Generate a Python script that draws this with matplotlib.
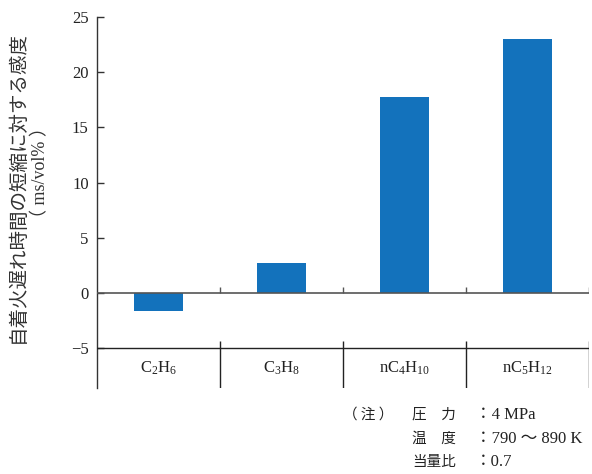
import matplotlib
matplotlib.use("Agg")
import matplotlib.pyplot as plt

plt.rcParams["font.family"] = ["Liberation Serif", "Noto Sans CJK JP"]
plt.rcParams["mathtext.default"] = "regular"
plt.rcParams["axes.unicode_minus"] = True

CATEGORIES  = ["C$_2$H$_6$", "C$_3$H$_8$", "nC$_4$H$_{10}$", "nC$_5$H$_{12}$"]
SENSITIVITY = [-1.6, 2.7, 17.8, 23.0]
Y_TICKS     = [-5, 0, 5, 10, 15, 20, 25]

YLABEL_1 = "自着火遅れ時間の短縮に対する感度"
YLABEL_2 = "（ ms/vol% ）"
NOTE_HEAD  = "（ 注 ）"
NOTE_KEYS  = ["圧　力", "温　度", "当量比"]
NOTE_VALS  = ["：4 MPa", "：790 〜 890 K", "：0.7"]

BAR_COLOR = "#1372bc"
TEXT_COLOR = "#222222"
Y_MIN, Y_MAX = -8.6, 25
CJK = ["Noto Sans CJK JP"]

fig = plt.figure(figsize=(5.92, 4.74), dpi=100)
ax = fig.add_axes([0.1639, 0.1814, 0.8311, 0.7827])

x = list(range(len(CATEGORIES)))
ax.bar(x, SENSITIVITY, width=0.4, color=BAR_COLOR, zorder=2)

ax.set_xlim(-0.5, len(CATEGORIES) - 0.5)
ax.set_ylim(Y_MIN, Y_MAX)
for side in ("top", "right", "bottom"):
    ax.spines[side].set_visible(False)
ax.spines["left"].set_color("#333333")
ax.spines["left"].set_linewidth(1.0)

ax.set_xticks([])
ax.set_yticks(Y_TICKS)
ax.tick_params(axis="y", direction="in", length=5, width=1.0,
               color="#333333", pad=6, labelsize=12, labelcolor=TEXT_COLOR)

# zero line and category box
ax.axhline(0, color="#555555", lw=1.2, zorder=3)
ax.axhline(-5, color="#222222", lw=1.0, zorder=3)
seps = [i + 0.5 for i in x]
ax.vlines(seps, 0, 0.55, color="#555555", lw=1.0, zorder=3)
ax.vlines(seps, Y_MIN, -5 + 0.65, color="#222222", lw=1.0, zorder=3)

for xi, name in zip(x, CATEGORIES):
    ax.text(xi, -6.8, name, ha="center", va="center", fontsize=12,
            color=TEXT_COLOR)

# vertical axis title, two lines
fig.text(0.029, 0.605, YLABEL_1, rotation=90, ha="center", va="center",
         fontsize=14, color="#333333")
fig.text(0.068, 0.635, YLABEL_2, rotation=90, ha="center", va="center",
         fontsize=13, color="#333333")

# measurement conditions
note_ys = [415, 439, 462]
fig.text(343 / 592, 1 - note_ys[0] / 474, NOTE_HEAD, ha="left", va="center",
         fontsize=10.5, color=TEXT_COLOR, family=CJK)
for y, key, val in zip(note_ys, NOTE_KEYS, NOTE_VALS):
    fig.text(412 / 592, 1 - y / 474, key, ha="left", va="center",
             fontsize=10.5, color=TEXT_COLOR, family=CJK)
    fig.text(475 / 592, 1 - y / 474, val, ha="left", va="center",
             fontsize=12, color=TEXT_COLOR)

fig.savefig("out.png", dpi=100)
